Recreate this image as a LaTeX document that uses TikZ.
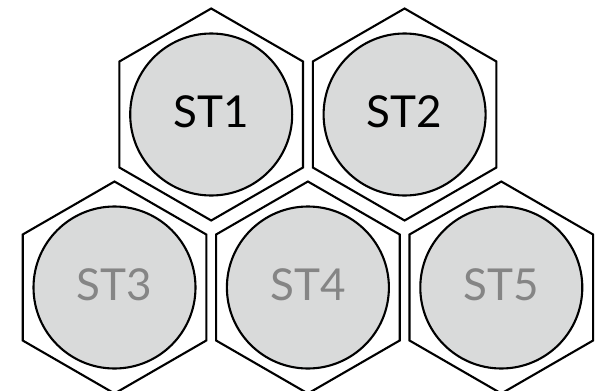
\documentclass[tikz,border=0pt]{standalone}
\usepackage{fontspec}
\setmainfont{Lato}
\definecolor{discgray}{RGB}{217,218,218}
\definecolor{labelgray}{RGB}{133,133,133}
\begin{document}
\begin{tikzpicture}[x=1pt,y=-1pt,
  hexline/.style={draw=black,line width=2.1pt,fill=white,line join=miter},
  disc/.style={circle,draw=black,line width=2.1pt,fill=discgray,minimum size=162pt,inner sep=0pt},
  stlabel/.style={font=\fontsize{44}{44}\selectfont,inner sep=0pt},
  active/.style={stlabel,text=black},
  passive/.style={stlabel,text=labelgray}]
\useasboundingbox (0,0) rectangle (600,391);
% honeycomb cells: name / centre x / centre y / label style
\foreach \n/\cx/\cy/\st in {1/211.2/114.5/active, 2/404.6/114.5/active,
                            3/114.5/287.5/passive, 4/307.9/287.5/passive, 5/501.3/287.5/passive} {
  \draw[hexline] (\cx,\cy) +(90:106) -- +(150:106) -- +(210:106)
                 -- +(270:106) -- +(330:106) -- +(30:106) -- cycle;
  \node[disc] (c\n) at (\cx,\cy) {};
  \node[\st] (t\n) at (\cx,\cy-3) {ST\n};
}
\end{tikzpicture}
\end{document}
